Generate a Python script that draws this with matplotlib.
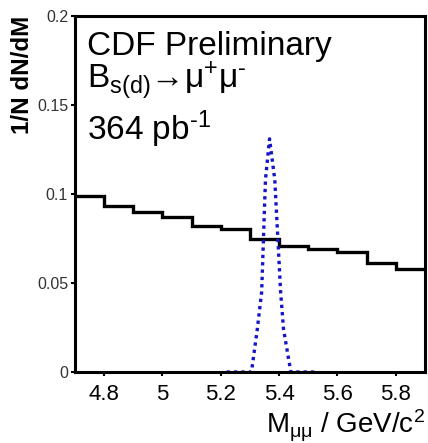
import numpy as np
import matplotlib
matplotlib.use("Agg")
import matplotlib.pyplot as plt

plt.rcParams['font.family'] = ['Liberation Sans', 'DejaVu Sans']
plt.rcParams['mathtext.fontset'] = 'custom'
plt.rcParams['mathtext.rm'] = 'Liberation Sans'
plt.rcParams['mathtext.it'] = 'Liberation Sans:italic'
plt.rcParams['mathtext.bf'] = 'Liberation Sans:bold'

# background histogram (bin edges and contents)
bkg_edges = [4.7, 4.8, 4.9, 5.0, 5.1, 5.2, 5.3, 5.4, 5.5, 5.6, 5.7, 5.8, 5.9]
bkg_vals = [0.099, 0.093, 0.090, 0.087, 0.082, 0.0805, 0.0745,
            0.0708, 0.0693, 0.0676, 0.061, 0.0576]

# signal shape
sig_mass = [5.22, 5.305, 5.325, 5.34, 5.353, 5.367, 5.385, 5.405, 5.415, 5.44, 5.52]
sig_vals = [0.0, 0.0, 0.024, 0.045, 0.108, 0.131, 0.108, 0.045, 0.024, 0.0, 0.0]

xticks = [4.8, 5.0, 5.2, 5.4, 5.6, 5.8]
xticklabels = ['4.8', '5', '5.2', '5.4', '5.6', '5.8']
yticks = [0, 0.05, 0.1, 0.15, 0.2]
yticklabels = ['0', '0.05', '0.1', '0.15', '0.2']

fig = plt.figure(figsize=(4.28, 4.43), dpi=100)
ax = fig.add_axes([0.1752, 0.1603, 0.8178, 0.8036])

ax.stairs(bkg_vals, bkg_edges, color='black', linewidth=2.4, baseline=None)
ax.plot(sig_mass, sig_vals, color='#1414c8', linewidth=2.4,
        linestyle=(0, (1, 1.2)), dash_capstyle='butt')

ax.set_xlim(4.7, 5.9)
ax.set_ylim(0, 0.2)
ax.set_xticks(xticks)
ax.set_xticklabels(xticklabels, fontsize=16)
ax.set_yticks(yticks)
ax.set_yticklabels(yticklabels, fontsize=11.5, color='#333333')
ax.tick_params(axis='both', direction='out', length=3, width=1.5)
ax.tick_params(axis='x', pad=6)
ax.tick_params(axis='y', pad=2)
for s in ax.spines.values():
    s.set_linewidth(2.2)

ax.set_ylabel('1/N dN/dM', fontsize=17.5, fontweight='bold', loc='top', labelpad=2)
ax.set_xlabel(r'M$_{\mathrm{\mu\mu}}$ / GeV/c$^{2}$', fontsize=20, loc='right', labelpad=2)

ax.text(0.034, 0.89, 'CDF Preliminary', transform=ax.transAxes, fontsize=24, va='baseline')
ax.text(0.034, 0.798, r'B$_{\mathrm{s(d)}}$→μ$^{\mathrm{+}}$μ$^{\mathrm{‐}}$',
        transform=ax.transAxes, fontsize=24, va='baseline')
ax.text(0.034, 0.652, r'364 pb$^{\mathrm{‐1}}$', transform=ax.transAxes, fontsize=24, va='baseline')

fig.savefig('out.png', dpi=100)
